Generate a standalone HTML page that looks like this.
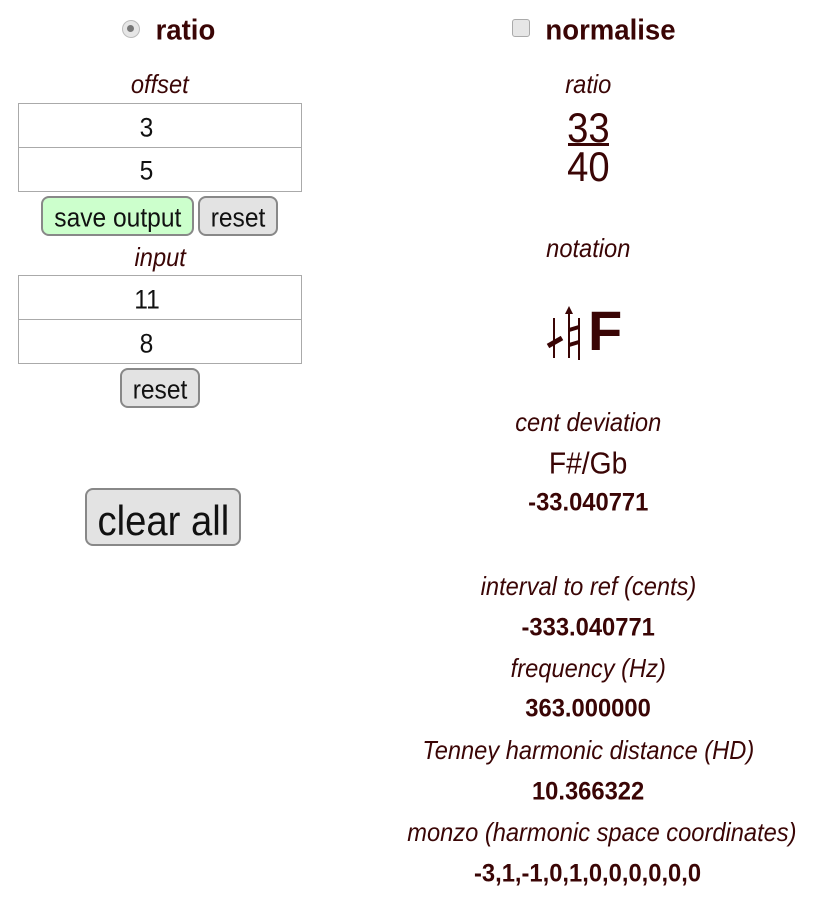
<!DOCTYPE html>
<html><head><meta charset="utf-8"><style>
body{margin:0;width:816px;height:921px;background:#fff;position:relative;overflow:hidden;font-family:"Liberation Sans",sans-serif;color:#3a0505}
.t{position:absolute;height:0;white-space:nowrap;text-align:center}
.t span{display:inline-block;transform:translateY(-50%) scaleX(.91);line-height:1}
.i{font-style:italic}
.b{font-weight:bold}
.b span{transform:translateY(-50%) scaleX(.95)}
.box{position:absolute;left:18px;width:282px;height:43px;border:1px solid #aaa;background:#fff}
.btn{position:absolute;border:2px solid #888;border-radius:8px;background:#e3e3e3;box-sizing:border-box}
</style></head><body>
<div style="position:absolute;left:122px;top:20px;width:16px;height:16px;border-radius:50%;background:#e6e6e6;border:1px solid #bbb"></div>
<div style="position:absolute;left:127px;top:25px;width:7px;height:7px;border-radius:50%;background:#777"></div>
<div class="t b" style="left:130px;width:110px;top:29px;font-size:29px"><span>ratio</span></div>
<div style="position:absolute;left:512px;top:19px;width:16px;height:16px;border-radius:3px;background:#e6e6e6;border:1px solid #aaa"></div>
<div class="t b" style="left:540px;width:140px;top:29px;font-size:29px"><span>normalise</span></div>

<div class="t i" style="left:0;width:320px;top:82px;font-size:26px"><span>offset</span></div>
<div class="box" style="top:103px"></div>
<div class="box" style="top:147px"></div>
<div class="t" style="left:0;width:294px;top:126px;font-size:27px;color:#111"><span>3</span></div>
<div class="t" style="left:0;width:294px;top:169px;font-size:27px;color:#111"><span>5</span></div>
<div class="btn" style="left:41px;top:196px;width:153px;height:40px;background:#ccffcc"></div>
<div class="t" style="left:41px;width:153px;top:216px;font-size:27px;color:#111"><span>save output</span></div>
<div class="btn" style="left:198px;top:196px;width:80px;height:40px"></div>
<div class="t" style="left:198px;width:80px;top:216px;font-size:27px;color:#111"><span>reset</span></div>
<div class="t i" style="left:0;width:320px;top:255px;font-size:26px"><span>input</span></div>
<div class="box" style="top:275px"></div>
<div class="box" style="top:319px"></div>
<div class="t" style="left:0;width:294px;top:298px;font-size:27px;color:#111"><span>11</span></div>
<div class="t" style="left:0;width:294px;top:342px;font-size:27px;color:#111"><span>8</span></div>
<div class="btn" style="left:120px;top:368px;width:80px;height:40px"></div>
<div class="t" style="left:120px;width:80px;top:388px;font-size:27px;color:#111"><span>reset</span></div>
<div class="btn" style="left:85px;top:488px;width:156px;height:58px"></div>
<div class="t" style="left:85px;width:156px;top:518px;font-size:42px;color:#111"><span>clear all</span></div>

<div class="t i" style="left:388px;width:400px;top:82px;font-size:26px"><span>ratio</span></div>
<div class="t" style="left:388px;width:400px;top:125px;font-size:42px"><span>33</span></div>
<div style="position:absolute;left:568px;top:143px;width:41px;height:3px;background:#3a0505"></div>
<div class="t" style="left:388px;width:400px;top:164px;font-size:42px"><span>40</span></div>
<div class="t i" style="left:388px;width:400px;top:246px;font-size:26px"><span>notation</span></div>
<svg style="position:absolute;left:540px;top:300px" width="90" height="65">
<g stroke="#3a0505" fill="#3a0505">
<line x1="14" y1="18" x2="14" y2="58" stroke-width="2"/>
<line x1="8" y1="46" x2="22" y2="38" stroke-width="5"/>
<line x1="29" y1="12" x2="29" y2="58" stroke-width="2"/>
<polygon points="25,14 29,6 33,14" stroke="none"/>
<line x1="39" y1="18" x2="39" y2="60" stroke-width="2"/>
<line x1="29" y1="30" x2="39" y2="27" stroke-width="4"/>
<line x1="29" y1="45" x2="39" y2="42" stroke-width="4"/>
</g>
<text x="48" y="50" font-family="Liberation Sans,sans-serif" font-size="56" font-weight="bold" fill="#3a0505">F</text>
</svg>
<div class="t i" style="left:388px;width:400px;top:420px;font-size:26px"><span>cent deviation</span></div>
<div class="t" style="left:388px;width:400px;top:461px;font-size:31px"><span>F#/Gb</span></div>
<div class="t b" style="left:388px;width:400px;top:501px;font-size:25px"><span>-33.040771</span></div>
<div class="t i" style="left:388px;width:400px;top:584px;font-size:26px"><span>interval to ref (cents)</span></div>
<div class="t b" style="left:388px;width:400px;top:626px;font-size:25px"><span>-333.040771</span></div>
<div class="t i" style="left:388px;width:400px;top:666px;font-size:26px"><span>frequency (Hz)</span></div>
<div class="t b" style="left:388px;width:400px;top:707px;font-size:25px"><span>363.000000</span></div>
<div class="t i" style="left:388px;width:400px;top:748px;font-size:26px"><span>Tenney harmonic distance (HD)</span></div>
<div class="t b" style="left:388px;width:400px;top:790px;font-size:25px"><span>10.366322</span></div>
<div class="t i" style="left:388px;width:400px;top:830px;font-size:26px"><span>monzo (harmonic space coordinates)</span></div>
<div class="t b" style="left:388px;width:400px;top:872px;font-size:25px"><span>-3,1,-1,0,1,0,0,0,0,0,0</span></div>
</body></html>
